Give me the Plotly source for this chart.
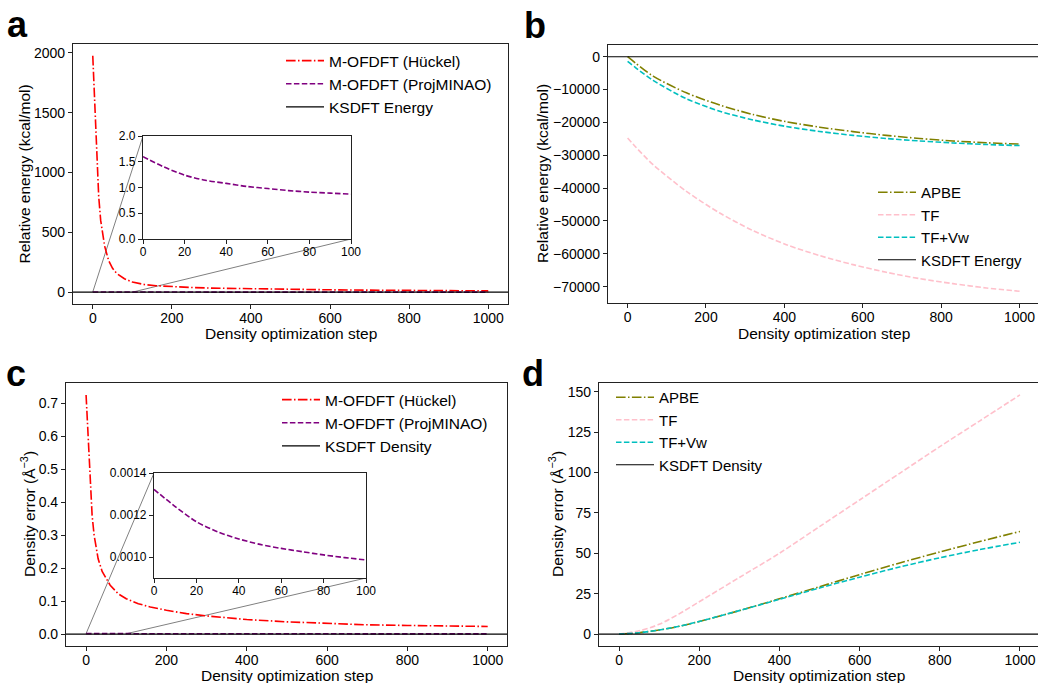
import plotly.graph_objects as go

W, H = 1038, 683
FONT = "Liberation Sans, Arial, sans-serif"

# ---------------- data ----------------
# Panel a: relative energy (kcal/mol)
steps_a_huckel = [0, 5, 10, 15, 20, 30, 40, 50, 60, 80, 100, 130, 160, 200, 250, 300,
                  400, 500, 600, 700, 800, 900, 1000]
energy_huckel = [1975, 1560, 1100, 800, 600, 385, 265, 200, 158, 112, 85, 64, 54, 45, 39, 34,
                 28, 24, 20, 17, 15, 13, 11]
steps_proj = [0, 10, 20, 30, 40, 50, 60, 70, 80, 90, 100, 150, 200, 300, 400, 500, 600, 700,
              800, 900, 1000]
energy_proj = [1.60, 1.40, 1.24, 1.14, 1.08, 1.02, 0.98, 0.94, 0.91, 0.89, 0.87, 0.78, 0.72,
               0.63, 0.56, 0.50, 0.46, 0.42, 0.39, 0.36, 0.34]

# Panel b: classical OFDFT energies
steps_b = [0, 20, 65, 150, 235, 320, 405, 490, 575, 660, 745, 830, 915, 1000]
energy_apbe = [0, -1900, -5900, -11000, -14700, -17600, -19800, -21450, -22800, -23950,
               -24900, -25650, -26200, -26600]
energy_tf = [-24750, -27400, -32870, -40990, -47580, -52960, -57220, -60570, -63310, -65640,
             -67570, -69090, -70410, -71420]
energy_tfvw = [-1420, -3300, -7200, -12800, -16600, -19250, -21250, -22750, -23950, -24900,
               -25650, -26250, -26720, -27050]

# Panel c: density error
steps_c_huckel = [0, 5, 10, 15, 20, 30, 40, 50, 60, 80, 100, 130, 160, 200, 250, 300,
                  400, 500, 600, 700, 800, 900, 1000]
dens_huckel = [0.725, 0.59, 0.45, 0.36, 0.30, 0.228, 0.19, 0.167, 0.148, 0.122, 0.107, 0.092,
               0.082, 0.072, 0.062, 0.055, 0.044, 0.037, 0.032, 0.028, 0.026, 0.024, 0.023]
dens_proj = [0.001322, 0.00124, 0.001168, 0.00112, 0.001086, 0.00106, 0.001041, 0.001025,
             0.00101, 0.000997, 0.000986, 0.00092, 0.00087, 0.0008, 0.00075, 0.0007, 0.00066,
             0.00063, 0.0006, 0.00058, 0.00056]

# Panel d: classical OFDFT density errors
steps_d = [0, 50, 100, 150, 200, 300, 400, 500, 600, 700, 800, 900, 1000]
dens_apbe = [0, 0.8, 2.5, 4.8, 7.8, 14.5, 21.8, 29.3, 36.8, 44.0, 50.8, 57.3, 63.5]
dens_tf = [0, 2.0, 6.0, 12.5, 20.0, 35.0, 50.0, 66.5, 83.0, 99.5, 116.0, 132.0, 148.0]
dens_tfvw = [0, 0.8, 2.5, 4.8, 7.8, 14.5, 21.5, 28.5, 35.2, 41.5, 47.2, 52.3, 56.8]

KSDFT_REF = 0.0
INSET_MAX_STEP = 100

x_ticks_main = [0, 200, 400, 600, 800, 1000]
y_ticks_a = [0, 500, 1000, 1500, 2000]
y_ticks_b = [0, -10000, -20000, -30000, -40000, -50000, -60000, -70000]
y_ticks_c = [0.0, 0.1, 0.2, 0.3, 0.4, 0.5, 0.6, 0.7]
y_ticks_d = [0, 25, 50, 75, 100, 125, 150]
x_ticks_inset = [0, 20, 40, 60, 80, 100]
y_ticks_inset_a = [0.0, 0.5, 1.0, 1.5, 2.0]
y_ticks_inset_c = [0.0010, 0.0012, 0.0014]


# ---------------- helpers ----------------
def dxd(l, r):
    return [l / W, min(r / W, 1.0)]


def dyd(t, b):
    return [1 - b / H, 1 - t / H]


def autorange(values, pad=0.05):
    lo, hi = min(values), max(values)
    p = (hi - lo) * pad
    return [lo - p, hi + p]


RED = "#ff0000"
PURPLE = "#800080"
OLIVE = "#808000"
PINK = "#ffc0cb"
CYAN = "#00bfbf"
DASHDOT = "9.6px,2.4px,1.5px,2.4px"
DASH = "5.5px,2.4px"
LW = 1.6

fig = go.Figure()

dom = {
    "a": (dxd(73, 508), dyd(44, 304)),
    "b": (dxd(608, 1038), dyd(45, 303)),
    "c": (dxd(66, 507), dyd(383, 646)),
    "d": (dxd(599, 1038), dyd(383, 646)),
    "ia": (dxd(143, 351), dyd(136, 239)),
    "ic": (dxd(154, 366), dyd(473, 578)),
}

xr_a = [-50, 1050]
xr_b = [-50, 1047]
xr_c = [-50, 1048]
xr_d = [-50, 1045]
yr_a = autorange(energy_huckel + [KSDFT_REF])
yr_b = autorange(energy_apbe + energy_tf + energy_tfvw + [KSDFT_REF])
yr_c = autorange(dens_huckel + [KSDFT_REF])
yr_d = autorange(dens_apbe + dens_tf + dens_tfvw + [KSDFT_REF])
yr_ia = [0, 2]
yr_ic = [0.0009, 0.0014]


def line(x, y, color, dash, name, xa, ya, legend, show=True, width=LW, smooth=False):
    ln = dict(color=color, dash=dash, width=width)
    if smooth:
        ln.update(shape="spline", smoothing=0.8)
    fig.add_trace(go.Scatter(x=x, y=y, mode="lines", name=name, line=ln,
                             xaxis=xa, yaxis=ya, legend=legend, showlegend=show,
                             hoverinfo="skip"))


# panel a
line(steps_a_huckel, energy_huckel, RED, DASHDOT, "M-OFDFT (Hückel)", "x", "y", "legend")
line(steps_proj, energy_proj, PURPLE, DASH, "M-OFDFT (ProjMINAO)", "x", "y", "legend")
line(xr_a, [KSDFT_REF, KSDFT_REF], "black", "solid", "KSDFT Energy", "x", "y", "legend", width=1.2)
n_in = sum(1 for s in steps_proj if s <= INSET_MAX_STEP)
line(steps_proj[:n_in], energy_proj[:n_in], PURPLE, DASH, "inset", "x5", "y5", "legend",
     show=False, smooth=True)

# panel b
line(steps_b, energy_apbe, OLIVE, DASHDOT, "APBE", "x2", "y2", "legend2", smooth=True)
line(steps_b, energy_tf, PINK, DASH, "TF", "x2", "y2", "legend2", smooth=True)
line(steps_b, energy_tfvw, CYAN, DASH, "TF+Vw", "x2", "y2", "legend2", smooth=True)
line(xr_b, [KSDFT_REF, KSDFT_REF], "black", "solid", "KSDFT Energy", "x2", "y2", "legend2", width=1.2)

# panel c
line(steps_c_huckel, dens_huckel, RED, DASHDOT, "M-OFDFT (Hückel)", "x3", "y3", "legend3")
line(steps_proj, dens_proj, PURPLE, DASH, "M-OFDFT (ProjMINAO)", "x3", "y3", "legend3")
line(xr_c, [KSDFT_REF, KSDFT_REF], "black", "solid", "KSDFT Density", "x3", "y3", "legend3", width=1.2)
line(steps_proj[:n_in], dens_proj[:n_in], PURPLE, DASH, "inset", "x6", "y6", "legend3",
     show=False, smooth=True)

# panel d
line(steps_d, dens_apbe, OLIVE, DASHDOT, "APBE", "x4", "y4", "legend4", smooth=True)
line(steps_d, dens_tf, PINK, DASH, "TF", "x4", "y4", "legend4", smooth=True)
line(steps_d, dens_tfvw, CYAN, DASH, "TF+Vw", "x4", "y4", "legend4", smooth=True)
line(xr_d, [KSDFT_REF, KSDFT_REF], "black", "solid", "KSDFT Density", "x4", "y4", "legend4", width=1.2)


def axis(domain, rng, anchor, tickvals, fmt=None, size=14, is_x=False):
    d = dict(domain=domain, range=rng, anchor=anchor, showgrid=False, zeroline=False,
             showline=True, mirror=True, linecolor="#222", linewidth=1.2,
             ticks="outside", ticklen=4, tickwidth=1, tickcolor="#222", automargin=False,
             tickvals=tickvals, tickfont=dict(family=FONT, size=size, color="black"))
    if fmt:
        d["tickformat"] = fmt
    if is_x:
        d["ticklabelstandoff"] = -3
    return d


layout = dict(
    width=W, height=H, margin=dict(l=0, r=0, t=0, b=0, pad=0, autoexpand=False),
    autosize=False,
    paper_bgcolor="white", plot_bgcolor="white",
    font=dict(family=FONT, color="black"),
    xaxis=axis(dom["a"][0], xr_a, "y", x_ticks_main, is_x=True),
    yaxis=axis(dom["a"][1], yr_a, "x", y_ticks_a, "d"),
    xaxis2=axis(dom["b"][0], xr_b, "y2", x_ticks_main, is_x=True),
    yaxis2=axis(dom["b"][1], yr_b, "x2", y_ticks_b, "d"),
    xaxis3=axis(dom["c"][0], xr_c, "y3", x_ticks_main, is_x=True),
    yaxis3=axis(dom["c"][1], yr_c, "x3", y_ticks_c, ".1f"),
    xaxis4=axis(dom["d"][0], xr_d, "y4", x_ticks_main, is_x=True),
    yaxis4=axis(dom["d"][1], yr_d, "x4", y_ticks_d, "d"),
    xaxis5=axis(dom["ia"][0], [0, INSET_MAX_STEP], "y5", x_ticks_inset, size=12, is_x=True),
    yaxis5=axis(dom["ia"][1], yr_ia, "x5", y_ticks_inset_a, ".1f", size=12),
    xaxis6=axis(dom["ic"][0], [0, INSET_MAX_STEP], "y6", x_ticks_inset, size=12, is_x=True),
    yaxis6=axis(dom["ic"][1], yr_ic, "x6", y_ticks_inset_c, ".4f", size=12),
)


def leg(x_px, y_px, size):
    return dict(x=x_px / W, y=1 - y_px / H, xanchor="left", yanchor="top",
                bgcolor="rgba(0,0,0,0)", borderwidth=0,
                font=dict(family=FONT, size=size, color="black"),
                itemwidth=38, tracegroupgap=0)


layout["legend"] = leg(281, 44, 15.5)
layout["legend2"] = leg(873, 176, 15)
layout["legend3"] = leg(277, 383, 15.5)
layout["legend4"] = leg(611, 381, 15)
fig.update_layout(**layout)


def to_data(frac, d, r):
    return r[0] + (frac - d[0]) / (d[1] - d[0]) * (r[1] - r[0])


def connectors(main, inset, xr, yr, yr_in, xref, yref):
    mx, my = dom[main]
    ix, iy = dom[inset]
    fig.add_shape(type="line", xref=xref, yref=yref,
                  x0=0, y0=yr_in[1] if yr_in[1] < yr[1] else KSDFT_REF,
                  x1=to_data(ix[0], mx, xr), y1=to_data(iy[1], my, yr),
                  line=dict(color="#808080", width=1), layer="below")
    fig.add_shape(type="line", xref=xref, yref=yref,
                  x0=INSET_MAX_STEP, y0=yr_in[0],
                  x1=to_data(ix[1], mx, xr), y1=to_data(iy[0], my, yr),
                  line=dict(color="#808080", width=1), layer="below")


connectors("a", "ia", xr_a, yr_a, yr_ia, "x", "y")
connectors("c", "ic", xr_c, yr_c, yr_ic, "x3", "y3")

ann = []


def txt(text, x, y, size, angle=0, bold=False, xa="center", ya="middle"):
    ann.append(dict(text=f"<b>{text}</b>" if bold else text, x=x / W, y=1 - y / H,
                    xref="paper", yref="paper", showarrow=False, textangle=angle,
                    xanchor=xa, yanchor=ya,
                    font=dict(family=FONT, size=size, color="black")))


txt("Density optimization step", 290.5, 333, 15.5)
txt("Density optimization step", 824, 333, 15.5)
txt("Density optimization step", 287, 675, 15.5)
txt("Density optimization step", 819, 675, 15.5)
txt("Relative energy (kcal/mol)", 24.5, 174, 15.5, angle=-90)
txt("Relative energy (kcal/mol)", 543, 174, 15.5, angle=-90)
txt("Density error (Å<sup>−3</sup>)", 28, 514, 15.5, angle=-90)
txt("Density error (Å<sup>−3</sup>)", 556, 514, 15.5, angle=-90)
txt("a", 17, 24, 36, bold=True)
txt("b", 535, 25, 36, bold=True)
txt("c", 16, 373, 36, bold=True)
txt("d", 533, 373, 36, bold=True)
fig.update_layout(annotations=ann)

fig.write_html("out.html")
